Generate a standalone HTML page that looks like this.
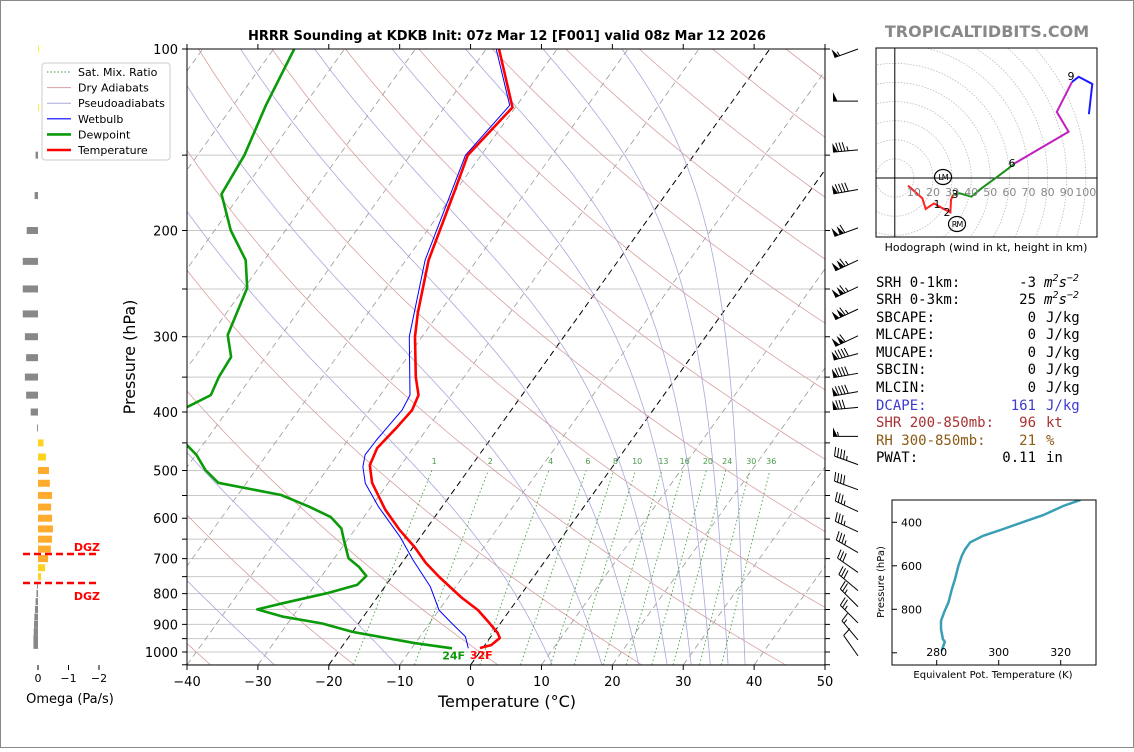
<!DOCTYPE html>
<html><head><meta charset="utf-8">
<style>
html,body{margin:0;padding:0;background:#fff;}
body{width:1134px;height:748px;overflow:hidden;font-family:"DejaVu Sans","Liberation Sans",sans-serif;}
svg text{font-family:"DejaVu Sans","Liberation Sans",sans-serif;}
.mono{font-family:"DejaVu Sans Mono","Liberation Mono",monospace;font-size:14px;}
</style></head>
<body>
<svg id="root" width="1134" height="748" viewBox="0 0 1134 748" xmlns="http://www.w3.org/2000/svg">
<rect x="0.5" y="0.5" width="1133" height="747" fill="#fff" stroke="#888"/>
<defs>
<clipPath id="mainclip"><rect x="187" y="49" width="638" height="616"/></clipPath>
<clipPath id="hodoclip"><rect x="876" y="48" width="221" height="189"/></clipPath>
</defs>
<text x="507" y="40" text-anchor="middle" font-size="13" font-weight="bold">HRRR Sounding at KDKB Init: 07z Mar 12 [F001] valid 08z Mar 12 2026</text>
<text x="987" y="37" text-anchor="middle" font-size="16" font-weight="bold" fill="#888">TROPICALTIDBITS.COM</text>
<g id="omega"></g>
<g id="main"></g>
<g id="barbs"></g>
<g id="hodo"></g>
<g id="thetae"></g>
<g id="stats">
<text class="mono" x="876" y="287">SRH 0-1km:</text>
<text class="mono" x="1036" y="287" text-anchor="end">-3</text>
<text class="mono" x="1044" y="287" font-style="italic">m<tspan dy="-6" font-size="10">2</tspan><tspan dy="6">s</tspan><tspan dy="-6" font-size="10">−2</tspan></text>
<text class="mono" x="876" y="304">SRH 0-3km:</text>
<text class="mono" x="1036" y="304" text-anchor="end">25</text>
<text class="mono" x="1044" y="304" font-style="italic">m<tspan dy="-6" font-size="10">2</tspan><tspan dy="6">s</tspan><tspan dy="-6" font-size="10">−2</tspan></text>
<text class="mono" x="876" y="322">SBCAPE:</text><text class="mono" x="1036" y="322" text-anchor="end">0</text><text class="mono" x="1046" y="322">J/kg</text>
<text class="mono" x="876" y="339">MLCAPE:</text><text class="mono" x="1036" y="339" text-anchor="end">0</text><text class="mono" x="1046" y="339">J/kg</text>
<text class="mono" x="876" y="357">MUCAPE:</text><text class="mono" x="1036" y="357" text-anchor="end">0</text><text class="mono" x="1046" y="357">J/kg</text>
<text class="mono" x="876" y="374">SBCIN:</text><text class="mono" x="1036" y="374" text-anchor="end">0</text><text class="mono" x="1046" y="374">J/kg</text>
<text class="mono" x="876" y="392">MLCIN:</text><text class="mono" x="1036" y="392" text-anchor="end">0</text><text class="mono" x="1046" y="392">J/kg</text>
<g fill="#3b3bd0"><text class="mono" x="876" y="410">DCAPE:</text><text class="mono" x="1036" y="410" text-anchor="end">161</text><text class="mono" x="1046" y="410">J/kg</text></g>
<g fill="#a83232"><text class="mono" x="876" y="427">SHR 200-850mb:</text><text class="mono" x="1036" y="427" text-anchor="end">96</text><text class="mono" x="1046" y="427">kt</text></g>
<g fill="#8b5a14"><text class="mono" x="876" y="445">RH 300-850mb:</text><text class="mono" x="1036" y="445" text-anchor="end">21</text><text class="mono" x="1046" y="445">%</text></g>
<text class="mono" x="876" y="462">PWAT:</text><text class="mono" x="1036" y="462" text-anchor="end">0.11</text><text class="mono" x="1046" y="462">in</text>
</g>
</svg>
<script>
// ---------- data ----------
var tempP = [100,125,150,171,224,274,300,350,375,397,424,459,490,524,581,628,670,712,751,811,852,895,930,948,974,985];
var tempT = [-58.2,-50.4,-51.9,-50.2,-46.8,-43.0,-41.0,-36.8,-34.6,-34.0,-34.4,-35.1,-34.4,-32.3,-27.7,-23.6,-19.8,-16.6,-13.3,-8.2,-4.5,-1.6,0.6,1.4,0.9,-0.4];
var dewP = [100,124,150,174,200,224,249,298,324,350,375,392,420,454,471,499,524,549,574,597,624,652,699,722,748,774,799,830,850,874,897,926,967,986];
var dewT = [-87.1,-85.4,-83.4,-82.7,-77.7,-72.6,-69.6,-67.6,-64.9,-64.6,-63.9,-66,-72,-62.2,-59.9,-57.1,-54,-43.9,-38.8,-34.7,-32.0,-30.5,-28.0,-25.7,-23.7,-24.1,-27.5,-32.7,-35.7,-31.3,-25.1,-20,-10,-4.3];
var wbP = [100,124,150,224,274,300,375,397,445,471,493,525,574,644,704,779,852,897,943,986];
var wbT = [-58.6,-51,-52.2,-47.3,-43.5,-41.8,-35.8,-35.4,-36,-36.1,-35.2,-33.2,-29,-22.9,-18.7,-13.6,-10,-6.8,-3.6,-2.0];
var omegaP = [100,125,150,175,200,225,250,275,300,325,350,375,400,425,450,475,500,525,550,575,600,625,650,675,700,725,750,775,800,825,850,875,900,925,950,975];
var omegaV = [-0.01,-0.01,0.08,0.11,0.37,0.5,0.5,0.5,0.43,0.39,0.43,0.39,0.24,0.03,-0.18,-0.26,-0.36,-0.39,-0.46,-0.43,-0.46,-0.49,-0.46,-0.42,-0.33,-0.23,-0.1,0.03,0.05,0.08,0.1,0.12,0.13,0.14,0.15,0.15];
var barbP = [100,122,147,171,198,224,248,270,299,320,345,370,393,439,489,538,585,632,684,738,791,841,895,955,1015];
var barbDir = [250,270,265,260,250,245,245,245,245,255,260,260,265,270,290,290,295,295,300,305,310,315,315,320,325];
var barbSpd = [55,50,85,90,110,115,115,115,110,90,90,90,80,55,45,40,35,35,35,30,30,25,25,15,10];
var hodoU = [6.9,14.4,16.2,20.5,25.1,29.1,29.4,30.4,33.9,40.1,45.4,52.5,59.6,62.8,91.0,84.8,92.8,96.3,103.4,101.6];
var hodoV = [-4.0,-10.6,-16.2,-13.3,-15.9,-18.0,-11.5,-8.9,-8.0,-9.8,-5.4,-0.2,5.1,7.7,24.2,34.6,50.3,53.0,49.2,33.4];
var hodoSeg = [0,0,0,0,0,0,0,0,1,1,1,1,1,1,2,2,2,3,3,3];
var thetaE = [326.4,320.8,314.4,309.0,301.5,295.0,290.8,289.2,288.1,287.0,285.9,284.9,283.8,282.4,281.4,281.4,282.0,282.6,281.6];
var thetaEP = [297,325,367,393,431,462,492,523,554,600,661,707,768,814,853,891,937,949,991];
var mixRatios = [1,2,4,6,8,10,13,16,20,24,30,36];
var moistStart = [-27.7,-10.5,11.5,18.5,23.7,27.7,31.1,33.8,36.3,38.7];
var pLabels = [100,200,300,400,500,600,700,800,900,1000];
var tLabels = [-40,-30,-20,-10,0,10,20,30,40,50];

// ---------- helpers ----------
var NS="http://www.w3.org/2000/svg";
function mk(tag,attrs,parent){var e=document.createElementNS(NS,tag);for(var k in attrs)e.setAttribute(k,attrs[k]);if(parent)parent.appendChild(e);return e;}
function yP(p){return 49+603*Math.log10(p/100);}
function xT(T,p){return 187+(T+40)*7.089+(665-yP(p))*0.716;}
function pts(Ts,Ps){var s=[];for(var i=0;i<Ts.length;i++)s.push(xT(Ts[i],Ps[i]).toFixed(1)+","+yP(Ps[i]).toFixed(1));return s.join(" ");}

var main=document.getElementById('main');
var clipG=mk('g',{'clip-path':'url(#mainclip)'},main);



// isobars
for(var p=100;p<=1050;p+=50){
  var l=mk('line',{x1:187,x2:825,y1:yP(p),y2:yP(p),stroke:'#c8c8c8','stroke-width':1},clipG);
  
  
}
// isotherms
for(var T=-130;T<=50;T+=10){
  var blk=(T==0||T==-20);
  var l=mk('line',{x1:xT(T,1050),y1:yP(1050),x2:xT(T,100),y2:yP(100),stroke:blk?'#000':'#999','stroke-width':blk?1:0.8,'stroke-dasharray':'6,4'},clipG);
  
  
}
// dry adiabats
for(var th=-40;th<=220;th+=20){
  var s=[];for(var p=1050;p>=100;p-=10){var t=(th+273.15)*Math.pow(p/1000,0.2857)-273.15;s.push(xT(t,p).toFixed(1)+","+yP(p).toFixed(1));}
  var pl=mk('polyline',{points:s.join(" "),fill:'none',stroke:'#d9a0a0','stroke-width':0.8},clipG);
  
  
}
// moist adiabats
function es(tc){return 6.112*Math.exp(17.67*tc/(tc+243.5));}
for(var i=0;i<moistStart.length;i++){
  var t=moistStart[i]+273.15,s=[];
  for(var p=1050;p>=100;p-=2){
    s.push(xT(t-273.15,p).toFixed(1)+","+yP(p).toFixed(1));
    var e=es(t-273.15),rs=0.622*e/(p-e);
    var dtdp=(287*t+2.5e6*rs)/(p*(1004+2.5e6*2.5e6*rs*0.622/(287*t*t)));
    t-=dtdp*2;
  }
  var pl=mk('polyline',{points:s.join(" "),fill:'none',stroke:'#a8a8dc','stroke-width':0.8},clipG);
  
  
}
// mixing ratio lines
function tdw(w,p){var e=w*p/(622+w);var a=Math.log(e/6.112);return 243.5*a/(17.67-a);}
for(var i=0;i<mixRatios.length;i++){
  var w=mixRatios[i];
  var l=mk('line',{x1:xT(tdw(w,1050),1050),y1:yP(1050),x2:xT(tdw(w,500),500),y2:yP(500),stroke:'#2e9a2e','stroke-width':0.8,'stroke-dasharray':'1.5,2.5'},clipG);
  
  
  var tx=mk('text',{x:xT(tdw(w,490),490),y:yP(490)-1,'text-anchor':'middle','font-size':8,fill:'#4a9a4a'},clipG);
  tx.textContent=w;
  
  
}
// profiles
var pd=mk('polyline',{points:pts(dewT,dewP),fill:'none',stroke:'#0a9a0a','stroke-width':2.6,'stroke-linejoin':'round'},clipG);


var pw=mk('polyline',{points:pts(wbT,wbP),fill:'none',stroke:'#0000ff','stroke-width':1,'stroke-linejoin':'round'},clipG);


var pt=mk('polyline',{points:pts(tempT,tempP),fill:'none',stroke:'#ff0000','stroke-width':2.6,'stroke-linejoin':'round'},clipG);


var sd=mk('text',{x:xT(dewT[dewT.length-1],986)+13,y:yP(986)+11,'text-anchor':'end','font-size':11,'font-weight':'bold',fill:'#0a9a0a'},main);
sd.textContent='24F';


var st=mk('text',{x:xT(tempT[tempT.length-1],985)-10,y:yP(985)+11,'font-size':11,'font-weight':'bold',fill:'#ff0000'},main);
st.textContent='32F';



// frame & ticks
var fr=mk('rect',{x:187,y:49,width:638,height:616,fill:'none',stroke:'#000','stroke-width':1},main);


for(var p=100;p<=1050;p+=50){
  var y=yP(p);
  var tk=mk('path',{d:'M182,'+y+'H187M825,'+y+'H830',stroke:'#000'},main);
  
  
}
for(var i=0;i<pLabels.length;i++){
  var t=mk('text',{x:178,y:yP(pLabels[i])+5,'text-anchor':'end','font-size':13},main);
  t.textContent=pLabels[i];
  
  
}
for(var i=0;i<tLabels.length;i++){
  var x=187+(tLabels[i]+40)*7.089;
  var tk=mk('path',{d:'M'+x+',665V670M'+x+',49V44',stroke:'#000'},main);
  
  
  var t=mk('text',{x:x,y:686,'text-anchor':'middle','font-size':13},main);
  t.textContent=(tLabels[i]<0?'\u2212':'')+Math.abs(tLabels[i]);
  
  
}
var xl=mk('text',{x:507,y:707,'text-anchor':'middle','font-size':16},main);
xl.textContent='Temperature (\u00B0C)';


var yl=mk('text',{x:0,y:0,'text-anchor':'middle','font-size':16,transform:'translate(135,357) rotate(-90)'},main);
yl.textContent='Pressure (hPa)';



// legend
var lg=mk('g',{},main);


mk('rect',{x:42,y:63,width:128,height:97,rx:3,fill:'#fff','fill-opacity':0.9,stroke:'#ccc'},lg);
var legItems=[['Sat. Mix. Ratio','#2e9a2e',1,'1.5,2'],['Dry Adiabats','#d9a0a0',1,''],['Pseudoadiabats','#a8a8dc',1,''],['Wetbulb','#0000ff',1.2,''],['Dewpoint','#0a9a0a',2.6,''],['Temperature','#ff0000',2.6,'']];
for(var i=0;i<legItems.length;i++){
  var y=72+i*15.6;
  var e=mk('g',{},lg);
  
  
  var a={x1:47,x2:71,y1:y,y2:y,stroke:legItems[i][1],'stroke-width':legItems[i][2]};
  if(legItems[i][3])a['stroke-dasharray']=legItems[i][3];
  mk('line',a,e);
  var t=mk('text',{x:78,y:y+4,'font-size':11},e);t.textContent=legItems[i][0];
}

// ---------- omega panel ----------
var om=document.getElementById('omega');
for(var i=0;i<omegaP.length;i++){
  var v=omegaV[i],y=yP(omegaP[i]);
  var w=Math.abs(v)*30.5; if(w<0.8)w=0.8;
  var col=v>0?'#888':(v<-0.3?'#ffab2e':'#ffd21f');
  if(v<0&&v>-0.05)col='#f0f000';
  var x=v>0?38-w:38;
  var r=mk('rect',{x:x,y:y-3.5,width:w,height:7,fill:col},om);
  
  
}
[[0,'0'],[-1,'\u22121'],[-2,'\u22122']].forEach(function(o){
  var x=38-o[0]*30.5;
  var tk=mk('line',{x1:x,x2:x,y1:665,y2:670,stroke:'#000'},om);
  
  
  var t=mk('text',{x:x,y:682,'text-anchor':'middle','font-size':11},om);t.textContent=o[1];
  
  
});
var ot=mk('text',{x:70,y:703,'text-anchor':'middle','font-size':13},om);ot.textContent='Omega (Pa/s)';


[[554,548],[583,597]].forEach(function(d,k){
  var l=mk('line',{x1:23,x2:99,y1:d[0],y2:d[0],stroke:'#ff0000','stroke-width':2.5,'stroke-dasharray':'7,4'},om);
  
  
  var t=mk('text',{x:100,y:d[1]+3,'text-anchor':'end','font-size':11,'font-weight':'bold',fill:'#ff0000'},om);t.textContent='DGZ';
  
  
});

// ---------- wind barbs ----------
var bg=document.getElementById('barbs');
for(var i=0;i<barbP.length;i++){
  var L=25,ax=858,ay=yP(barbP[i]);
  var d=barbDir[i]*Math.PI/180;
  var ux=Math.sin(d),uy=-Math.cos(d);
  var tx=ax+ux*L,ty=ay+uy*L;
  var px=-uy,py=ux;
  if(py>0){px=-px;py=-py;}
  var g=mk('g',{},bg);
  
  
  mk('line',{x1:ax,y1:ay,x2:tx,y2:ty,stroke:'#000','stroke-width':1},g);
  var spd=Math.round(barbSpd[i]/5)*5,pos=0,sp=3.2;
  while(spd>=50){
    var bx=tx-ux*pos,by=ty-uy*pos,cx=tx-ux*(pos+4.5),cy=ty-uy*(pos+4.5);
    mk('polygon',{points:bx+','+by+' '+(bx+px*9)+','+(by+py*9)+' '+cx+','+cy,fill:'#000'},g);
    pos+=5.5;spd-=50;
  }
  while(spd>=10){
    var bx=tx-ux*pos,by=ty-uy*pos;
    mk('line',{x1:bx,y1:by,x2:bx+px*9+ux*2,y2:by+py*9+uy*2,stroke:'#000','stroke-width':1},g);
    pos+=sp;spd-=10;
  }
  if(spd>=5){
    if(pos==0)pos=sp;
    var bx=tx-ux*pos,by=ty-uy*pos;
    mk('line',{x1:bx,y1:by,x2:bx+px*4.5+ux,y2:by+py*4.5+uy,stroke:'#000','stroke-width':1},g);
  }
}

// ---------- hodograph ----------
var hg=document.getElementById('hodo');
var ox=894.8,oy=178,ks=1.91;
var hc=mk('g',{'clip-path':'url(#hodoclip)'},hg);


for(var r=10;r<=100;r+=10){
  var c=mk('circle',{cx:ox,cy:oy,r:r*ks,fill:'none',stroke:'#bbb','stroke-width':0.8,'stroke-dasharray':'1.5,1.5'},hc);
  
  
}
mk('line',{x1:876,x2:1097,y1:oy,y2:oy,stroke:'#000','stroke-width':1},hc);
mk('line',{x1:ox,x2:ox,y1:48,y2:237,stroke:'#000','stroke-width':1},hc);
for(var r=10;r<=100;r+=10){
  var t=mk('text',{x:ox+r*ks,y:196,'text-anchor':'middle','font-size':11,fill:'#888'},hg);t.textContent=r;
  
  
}
var segCol=['#ff2020','#1a8f1a','#c020c0','#1a1aff'];
for(var s=0;s<4;s++){
  var arr=[];
  for(var i=0;i<hodoU.length;i++){ if(hodoSeg[i]==s||(i+1<hodoU.length&&hodoSeg[i+1]==s&&hodoSeg[i]==s-1)) arr.push((ox+hodoU[i]*ks).toFixed(1)+','+(oy-hodoV[i]*ks).toFixed(1)); }
  var pl=mk('polyline',{points:arr.join(' '),fill:'none',stroke:segCol[s],'stroke-width':2},hc);
  
  
}
[['1',937,208],['2',947,216],['3',955,198],['6',1012,167],['9',1071,80]].forEach(function(h){
  var t=mk('text',{x:h[1],y:h[2],'text-anchor':'middle','font-size':11},hg);t.textContent=h[0];
  
  
});
[['LM',943,177],['RM',957,224]].forEach(function(m){
  var g=mk('g',{},hg);
  
  
  mk('ellipse',{cx:m[1],cy:m[2],rx:8.5,ry:7.5,fill:'none',stroke:'#000','stroke-width':1.2},g);
  var t=mk('text',{x:m[1],y:m[2]+3,'text-anchor':'middle','font-size':8,'letter-spacing':'-1'},g);t.textContent=m[0];
});
var hf=mk('rect',{x:876,y:48,width:221,height:189,fill:'none',stroke:'#000'},hg);


var hl=mk('text',{x:986,y:251,'text-anchor':'middle','font-size':11},hg);hl.textContent='Hodograph (wind in kt, height in km)';



// ---------- theta-e panel ----------
var te=document.getElementById('thetae');
function tx2(th){return 936.7+(th-280)*3.1;}
function ty2(p){return 522.3+(p-400)*0.2175;}
var tep=[];for(var i=0;i<thetaE.length;i++)tep.push(tx2(thetaE[i]).toFixed(1)+','+ty2(thetaEP[i]).toFixed(1));
var tcp=mk('clipPath',{id:'teclip'},te);mk('rect',{x:892,y:500,width:204,height:165},tcp);
var tl=mk('polyline',{points:tep.join(' '),fill:'none',stroke:'#3a9fb5','stroke-width':2.5,'clip-path':'url(#teclip)'},te);


var tf=mk('rect',{x:892,y:500,width:204,height:165,fill:'none',stroke:'#000'},te);


[400,600,800].forEach(function(p){
  mk('line',{x1:892,x2:897,y1:ty2(p),y2:ty2(p),stroke:'#000'},te);
  var t=mk('text',{x:922,y:ty2(p)+4,'text-anchor':'end','font-size':11},te);t.textContent=p;
  
  
});
[280,300,320].forEach(function(v){
  mk('line',{x1:tx2(v),x2:tx2(v),y1:665,y2:660,stroke:'#000'},te);
  var t=mk('text',{x:tx2(v),y:656,'text-anchor':'middle','font-size':11},te);t.textContent=v;
  
  
});
mk('line',{x1:892,x2:897,y1:ty2(1000),y2:ty2(1000),stroke:'#000'},te);
var tyl=mk('text',{x:0,y:0,'text-anchor':'middle','font-size':10,transform:'translate(884,582) rotate(-90)'},te);tyl.textContent='Pressure (hPa)';


var txl=mk('text',{x:993,y:678,'text-anchor':'middle','font-size':10},te);txl.textContent='Equivalent Pot. Temperature (K)';


</script>
</body></html>
